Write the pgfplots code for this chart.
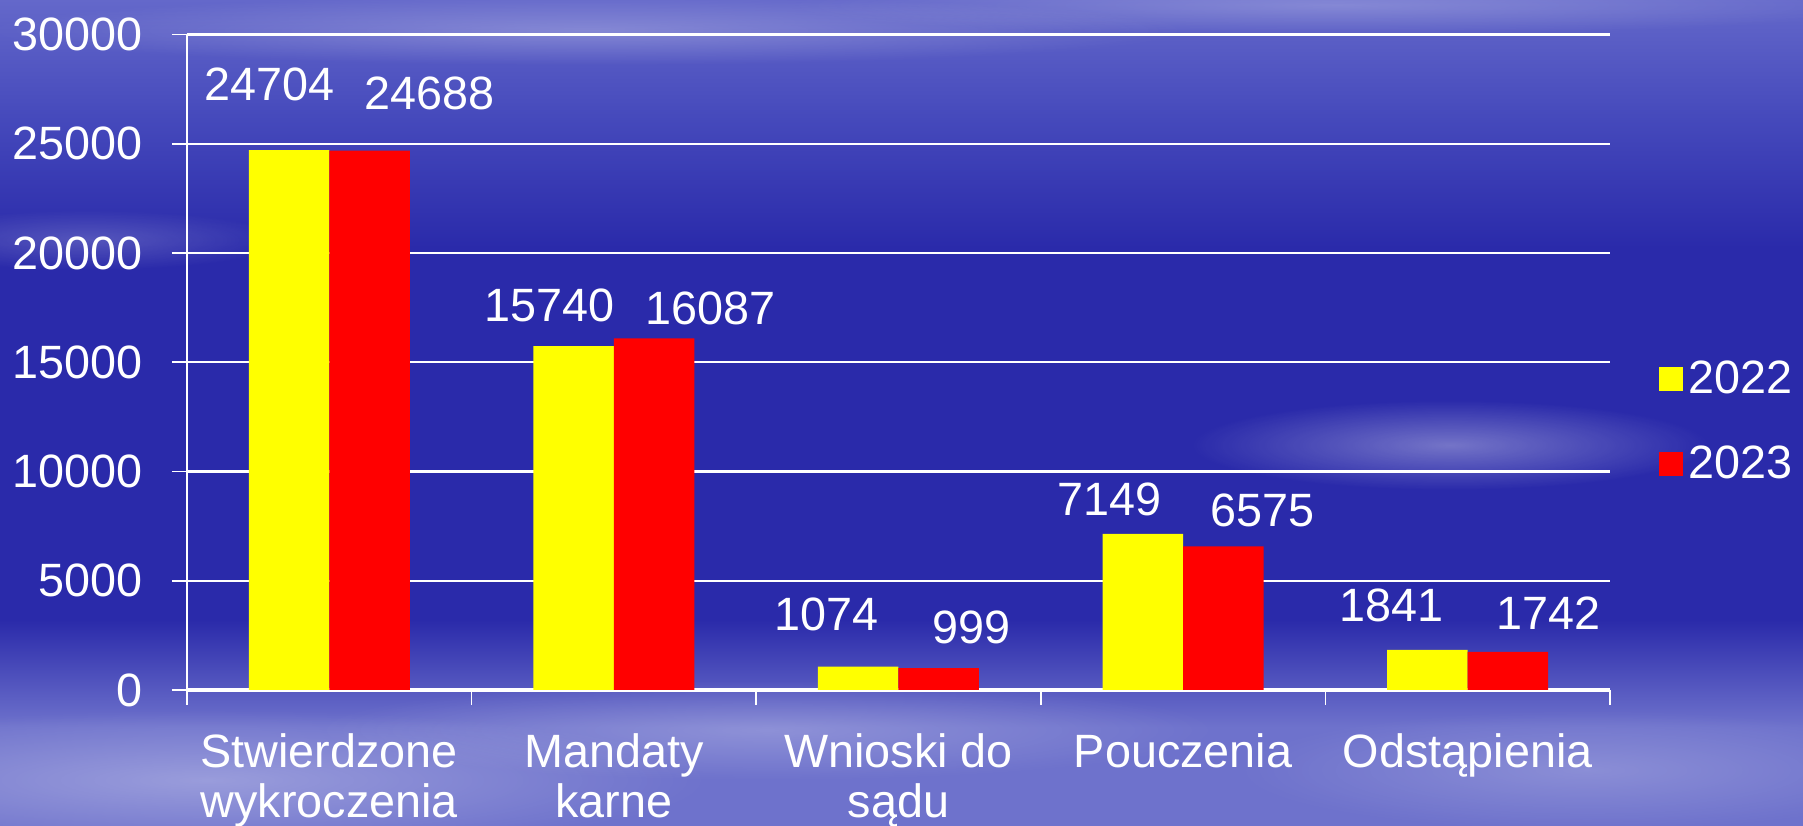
\documentclass[border=0pt]{standalone}
\usepackage{pgfplots}
\usepackage{pgfplotstable}
\pgfplotsset{compat=1.18}
\usetikzlibrary{fadings}
\tikzfading[name=softout, inner color=transparent!0, outer color=transparent!100]
\usepackage{fontspec}
\setmainfont{Liberation Sans}
\definecolor{ybarc}{RGB}{255,255,0}
\definecolor{rbarc}{RGB}{255,0,0}
\definecolor{bgbot}{RGB}{110,114,204}
\definecolor{bgtrans}{RGB}{70,74,188}
\definecolor{bgdark}{RGB}{42,42,170}
\definecolor{bgtop}{RGB}{100,104,202}
\pgfdeclareverticalshading{bgsh}{100bp}{color(0bp)=(bgbot); color(25bp)=(bgbot); color(31bp)=(bgbot); color(37.5bp)=(bgdark); color(60bp)=(bgdark); color(68bp)=(bgtrans); color(75bp)=(bgtop); color(100bp)=(bgtop)}
\newcommand{\lblfont}{\fontsize{13.3}{14.4}\selectfont}

\pgfplotstableread{
x y dx dy
0 24704 -1.96 6.6
1 15740 -2.4 4.1
2 1074 -3.2 5.2
3 7149 -3.3 3.45
4 1841 -3.6 4.4
}\yeartwo

\pgfplotstableread{
x y dx dy
0 24688 6.0 5.75
1 16087 5.6 3.0
2 999 3.3 4.1
3 6575 3.9 3.6
4 1742 4.1 3.9
}\yearthree

\begin{document}
\begin{tikzpicture}
\path[use as bounding box] (-18.7mm,-13.6mm) rectangle (161.6mm,69.0mm);
\begin{scope}
\clip (-18.7mm,-13.6mm) rectangle (161.6mm,69.0mm);
\shade[shading=bgsh] (-18.7mm,-13.6mm) rectangle (161.6mm,69.0mm);
% cloud-like light patches
\fill[white, opacity=0.35, path fading=softout] (126.3mm,24.5mm) ellipse (26mm and 4.5mm);
\fill[white, opacity=0.30, path fading=softout] (2mm,-9mm) ellipse (50mm and 7mm);
\fill[white, opacity=0.22, path fading=softout] (58mm,-4mm) ellipse (45mm and 5mm);
\fill[white, opacity=0.20, path fading=softout] (140mm,-8mm) ellipse (35mm and 6mm);
\fill[white, opacity=0.25, path fading=softout] (40mm,66mm) ellipse (60mm and 3.5mm);
\fill[white, opacity=0.22, path fading=softout] (115mm,68.5mm) ellipse (55mm and 3mm);
\fill[white, opacity=0.20, path fading=softout] (-10mm,45mm) ellipse (20mm and 3mm);
\end{scope}
\begin{axis}[
  at={(0,0)}, anchor=south west,
  scale only axis, width=142.3mm, height=65.55mm,
  xmin=-0.5, xmax=4.5, ymin=0, ymax=30000,
  ybar=0pt, bar width=8.05mm,
  axis x line*=bottom, axis y line*=left,
  axis line style={white, line width=0.5pt},
  x axis line style={line width=0.9pt},
  tick align=outside, major tick length=1.5mm,
  tick style={white, line width=0.5pt},
  xtick={-0.5,0.5,...,4.5}, xticklabels={},
  extra x ticks={0,1,2,3,4},
  extra x tick labels={Stwierdzone\\wykroczenia, Mandaty\\karne, Wnioski do\\sądu, Pouczenia, Odstąpienia},
  extra x tick style={major tick length=0pt, tick style={draw=none},
     ticklabel style={align=center, anchor=north, inner sep=0pt, yshift=-4.25mm}},
  ytick={0,5000,...,30000},
  ymajorgrids, grid style={white, line width=0.6pt},
  scaled y ticks=false,
  /pgf/number format/assume math mode=true,
  yticklabel style={/pgf/number format/fixed, /pgf/number format/1000 sep={}, anchor=east, inner sep=0pt, xshift=-2.9mm},
  ticklabel style={font=\lblfont, text=white},
  legend style={at={(1.0337,0.409)}, anchor=west, draw=none, fill=none, inner sep=0pt,
     row sep=4.7mm, column sep=0.6mm, font=\lblfont, text=white, nodes={inner sep=0pt}},
  legend cell align=left,
  legend image code/.code={\fill[#1] (0mm,-1.2mm) rectangle (2.4mm,1.2mm);},
  nodes near coords,
  point meta=explicit symbolic,
  visualization depends on={\thisrow{dx} \as \dx},
  visualization depends on={\thisrow{dy} \as \dy},
  every node near coord/.append style={font=\lblfont, text=white, anchor=center, inner sep=0pt, xshift=\dx mm, yshift=\dy mm},
]
\addplot[fill=ybarc, draw=none] table[x=x, y=y, meta=y] {\yeartwo};
\addlegendentry{2022}
\addplot[fill=rbarc, draw=none] table[x=x, y=y, meta=y] {\yearthree};
\addlegendentry{2023}
\end{axis}
\end{tikzpicture}
\end{document}
